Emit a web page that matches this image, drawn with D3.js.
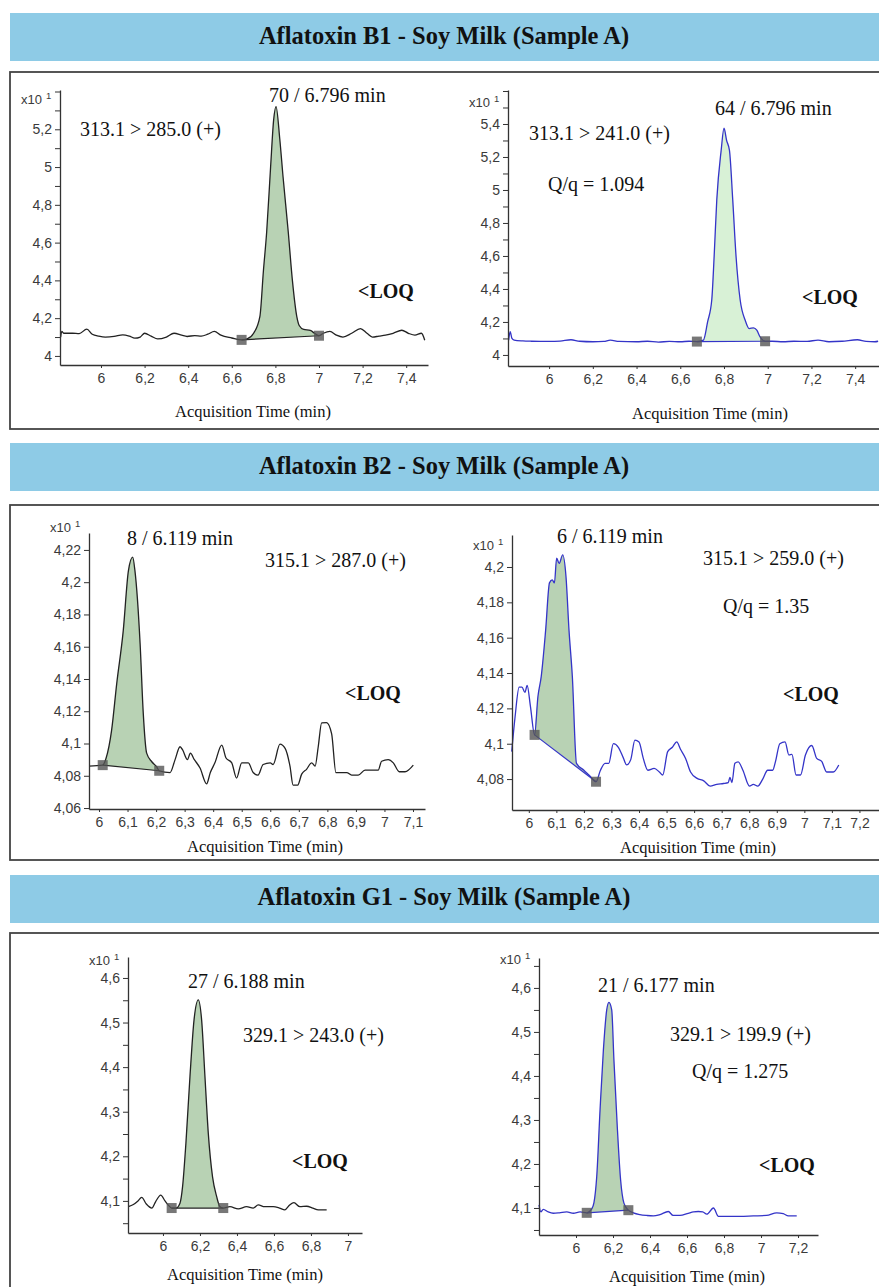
<!DOCTYPE html>
<html>
<head>
<meta charset="utf-8">
<script src="https://cdn.jsdelivr.net/npm/d3@7"></script>
<style>
  body { margin: 0; background: #fff; }
  svg { display: block; }
  .tick text { font-family: "Liberation Sans", Arial, sans-serif; font-size: 14px; fill: #3a3a3a; }
  .domain, .tick line { stroke: #333; }
  .note { font-family: "Liberation Serif", "Times New Roman", serif; font-size: 20px; fill: #111; }
  .loq { font-weight: bold; }
  .xtitle { font-family: "Liberation Serif", "Times New Roman", serif; font-size: 16.5px; fill: #111; }
  .head { font-family: "Liberation Serif", "Times New Roman", serif; font-size: 24.5px; font-weight: bold; fill: #111; }
  .mult { font-family: "Liberation Sans", Arial, sans-serif; fill: #3a3a3a; }
</style>
</head>
<body>
<svg id="chart" width="879" height="1287"></svg>
<script>
// section titles
const sectionTitles = [
  "Aflatoxin B1 - Soy Milk (Sample A)",
  "Aflatoxin B2 - Soy Milk (Sample A)",
  "Aflatoxin G1 - Soy Milk (Sample A)"
];

// traces: [time (min), counts x10^1]
const b1Quant = [[5.815,4.100],[5.82,4.13],[5.83,4.12],[5.87,4.12],[5.9,4.118],[5.935,4.142],[5.96,4.115],[5.99,4.105],[6.02,4.1],[6.06,4.103],[6.1,4.112],[6.13,4.105],[6.155,4.094],[6.18,4.1],[6.2,4.12],[6.23,4.105],[6.26,4.09],[6.3,4.1],[6.335,4.12],[6.37,4.11],[6.395,4.103],[6.43,4.108],[6.46,4.105],[6.49,4.115],[6.52,4.13],[6.55,4.11],[6.6,4.095],[6.645,4.085],[6.67,4.09],[6.70,4.12],[6.729,4.21],[6.745,4.45],[6.76,4.656],[6.778,5.0],[6.792,5.25],[6.803,5.32],[6.82,5.15],[6.835,4.95],[6.859,4.656],[6.878,4.4],[6.898,4.21],[6.91,4.16],[6.93,4.14],[6.96,4.135],[6.98,4.12],[7.0,4.107],[7.02,4.12],[7.05,4.13],[7.08,4.11],[7.11,4.1],[7.15,4.12],[7.19,4.145],[7.22,4.12],[7.245,4.1],[7.275,4.105],[7.305,4.11],[7.34,4.12],[7.38,4.136],[7.41,4.12],[7.44,4.11],[7.47,4.12],[7.485,4.083]];
const b1QuantMarks = [[6.645,4.085],[7.0,4.107]];

const b1Qual = [[5.815,4.09],[5.822,4.141],[5.83,4.1],[5.84,4.09],[5.88,4.085],[5.92,4.083],[5.96,4.082],[6.0,4.082],[6.05,4.084],[6.1,4.092],[6.14,4.083],[6.2,4.08],[6.25,4.082],[6.28,4.09],[6.32,4.082],[6.4,4.08],[6.45,4.083],[6.5,4.078],[6.55,4.082],[6.6,4.08],[6.64,4.083],[6.676,4.081],[6.706,4.09],[6.725,4.2],[6.744,4.333],[6.755,4.6],[6.767,4.94],[6.787,5.24],[6.80,5.374],[6.812,5.3],[6.825,5.24],[6.84,4.94],[6.855,4.6],[6.874,4.333],[6.897,4.21],[6.915,4.16],[6.935,4.164],[6.95,4.15],[6.965,4.11],[6.988,4.083],[7.02,4.083],[7.07,4.08],[7.12,4.083],[7.18,4.082],[7.23,4.09],[7.28,4.08],[7.34,4.083],[7.41,4.092],[7.45,4.082],[7.49,4.08],[7.505,4.083]];
const b1QualMarks = [[6.676,4.081],[6.988,4.083]];

const b2Quant = [[5.965,4.086],[6.013,4.0866],[6.025,4.091],[6.044,4.108],[6.062,4.137],[6.085,4.17],[6.103,4.207],[6.118,4.2155],[6.126,4.207],[6.144,4.162],[6.155,4.119],[6.167,4.094],[6.185,4.0887],[6.202,4.0856],[6.211,4.0831],[6.249,4.082],[6.266,4.0897],[6.284,4.098],[6.293,4.096],[6.31,4.09],[6.32,4.094],[6.334,4.09],[6.354,4.0848],[6.377,4.075],[6.39,4.082],[6.406,4.088],[6.43,4.099],[6.445,4.091],[6.465,4.088],[6.482,4.0786],[6.5,4.088],[6.523,4.088],[6.54,4.082],[6.557,4.0804],[6.575,4.087],[6.6,4.088],[6.61,4.087],[6.634,4.0996],[6.652,4.097],[6.669,4.086],[6.68,4.0742],[6.696,4.0742],[6.71,4.081],[6.727,4.084],[6.745,4.088],[6.757,4.086],[6.768,4.098],[6.78,4.1128],[6.797,4.113],[6.815,4.106],[6.83,4.0819],[6.868,4.082],[6.885,4.0804],[6.908,4.0804],[6.932,4.0835],[6.978,4.0835],[6.99,4.089],[7.013,4.09],[7.031,4.088],[7.052,4.0825],[7.072,4.0825],[7.101,4.0866]];
const b2QuantMarks = [[6.013,4.0866],[6.211,4.0831]];

const b2Qual = [[5.938,4.0955],[5.95,4.115],[5.965,4.132],[5.975,4.132],[5.986,4.129],[5.994,4.133],[6.006,4.121],[6.021,4.105],[6.033,4.1266],[6.045,4.138],[6.061,4.164],[6.075,4.191],[6.085,4.1927],[6.093,4.191],[6.101,4.205],[6.11,4.202],[6.123,4.2068],[6.135,4.1945],[6.146,4.164],[6.158,4.138],[6.173,4.0889],[6.2,4.085],[6.22,4.082],[6.244,4.0785],[6.26,4.085],[6.277,4.0889],[6.29,4.0889],[6.307,4.1],[6.325,4.098],[6.343,4.092],[6.355,4.088],[6.37,4.091],[6.385,4.102],[6.4,4.101],[6.415,4.092],[6.432,4.085],[6.455,4.086],[6.474,4.084],[6.486,4.0823],[6.504,4.0955],[6.521,4.098],[6.537,4.101],[6.55,4.097],[6.569,4.0917],[6.587,4.084],[6.611,4.0804],[6.635,4.079],[6.658,4.076],[6.682,4.077],[6.706,4.0775],[6.724,4.078],[6.73,4.081],[6.737,4.078],[6.748,4.0889],[6.76,4.0897],[6.777,4.085],[6.801,4.076],[6.815,4.077],[6.831,4.076],[6.849,4.08],[6.867,4.085],[6.885,4.085],[6.895,4.0897],[6.911,4.1],[6.93,4.101],[6.944,4.0936],[6.955,4.094],[6.97,4.0823],[6.986,4.0823],[7.004,4.0936],[7.027,4.099],[7.045,4.0917],[7.063,4.09],[7.081,4.084],[7.105,4.084],[7.125,4.088]];
const b2QualMarks = [[6.021,4.105],[6.244,4.0785]];

const g1Quant = [[5.813,4.087],[5.84,4.092],[5.865,4.1],[5.885,4.108],[5.91,4.093],[5.94,4.084],[5.96,4.098],[5.988,4.113],[6.011,4.1],[6.03,4.09],[6.047,4.084],[6.07,4.084],[6.092,4.095],[6.106,4.132],[6.124,4.229],[6.146,4.379],[6.168,4.506],[6.191,4.551],[6.209,4.506],[6.227,4.379],[6.245,4.252],[6.268,4.154],[6.29,4.11],[6.308,4.087],[6.326,4.084],[6.362,4.087],[6.407,4.082],[6.452,4.087],[6.488,4.084],[6.515,4.091],[6.55,4.087],[6.596,4.087],[6.63,4.084],[6.659,4.08],[6.685,4.091],[6.708,4.096],[6.74,4.087],[6.777,4.088],[6.81,4.084],[6.84,4.08],[6.885,4.08]];
const g1QuantMarks = [[6.047,4.084],[6.326,4.084]];

const g1Qual = [[5.8,4.107],[5.81,4.091],[5.823,4.097],[5.85,4.091],[5.877,4.088],[5.91,4.089],[5.95,4.091],[5.986,4.088],[6.022,4.091],[6.058,4.089],[6.085,4.098],[6.097,4.112],[6.112,4.171],[6.13,4.323],[6.148,4.459],[6.166,4.55],[6.178,4.567],[6.193,4.55],[6.205,4.436],[6.223,4.285],[6.241,4.164],[6.259,4.111],[6.283,4.095],[6.31,4.089],[6.345,4.085],[6.382,4.083],[6.418,4.082],[6.454,4.085],[6.499,4.092],[6.525,4.083],[6.562,4.083],[6.607,4.088],[6.635,4.091],[6.661,4.092],[6.685,4.091],[6.707,4.086],[6.743,4.1],[6.77,4.081],[6.82,4.081],[6.886,4.081],[6.958,4.082],[7.03,4.083],[7.085,4.089],[7.12,4.087],[7.148,4.082],[7.193,4.082]];
const g1QualMarks = [[6.058,4.089],[6.283,4.095]];

// tick values
const xTicksB1 = [6, 6.2, 6.4, 6.6, 6.8, 7, 7.2, 7.4];
const xTicksB2 = [6, 6.1, 6.2, 6.3, 6.4, 6.5, 6.6, 6.7, 6.8, 6.9, 7, 7.1];
const xTicksB2Qual = [6, 6.1, 6.2, 6.3, 6.4, 6.5, 6.6, 6.7, 6.8, 6.9, 7, 7.1, 7.2];
const xTicksG1 = [6, 6.2, 6.4, 6.6, 6.8, 7];
const xTicksG1Qual = [6, 6.2, 6.4, 6.6, 6.8, 7, 7.2];
const yTicksB1Quant = [4, 4.2, 4.4, 4.6, 4.8, 5, 5.2];
const yMinorB1Quant = [4.1, 4.3, 4.5, 4.7, 4.9, 5.1, 5.3, 5.4];
const yTicksB1Qual = [4, 4.2, 4.4, 4.6, 4.8, 5, 5.2, 5.4];
const yMinorB1Qual = [4.1, 4.3, 4.5, 4.7, 4.9, 5.1, 5.3, 5.5, 5.6];
const yTicksB2Quant = [4.06, 4.08, 4.1, 4.12, 4.14, 4.16, 4.18, 4.2, 4.22];
const yTicksB2Qual = [4.08, 4.1, 4.12, 4.14, 4.16, 4.18, 4.2];
const yTicksG1 = [4.1, 4.2, 4.3, 4.4, 4.5, 4.6];
const yMinorG1Quant = [4.05, 4.15, 4.25, 4.35, 4.45, 4.55];
const yMinorG1Qual = [4.05, 4.15, 4.25, 4.35, 4.45, 4.55, 4.65];

const BLACK = "#222", BLUE = "#3434c8", GREEN = "#b8d2b4", LIGHT = "#d8f1d6";

// layout
const sections = [
  { head: 13, box: [72, 429], textY: 44 },
  { head: 443, box: [505, 860], textY: 474 },
  { head: 875, box: [933, 1300], textY: 905 }
];

const panels = [
  { trace: b1Quant, marks: b1QuantMarks, xt: xTicksB1, yt: yTicksB1Quant, ym: yMinorB1Quant,
    xDom: [5.812, 7.5], yDom: [3.952, 5.408], l: 60, r: 428, t: 90, b: 365,
    line: BLACK, fill: GREEN, multY: 104, title: [253, 417],
    notes: [["70 / 6.796 min", 269, 102], ["313.1 > 285.0 (+)", 80, 136], ["<LOQ", 358, 298, true]] },
  { trace: b1Qual, marks: b1QualMarks, xt: xTicksB1, yt: yTicksB1Qual, ym: yMinorB1Qual,
    xDom: [5.812, 7.509], yDom: [3.933, 5.606], l: 508, r: 879, t: 90, b: 366,
    line: BLUE, fill: LIGHT, multY: 107, title: [710, 419],
    notes: [["64 / 6.796 min", 715, 115], ["313.1 > 241.0 (+)", 529, 140], ["Q/q = 1.094", 548, 191], ["<LOQ", 802, 304, true]] },
  { trace: b2Quant, marks: b2QuantMarks, xt: xTicksB2, yt: yTicksB2Quant, ym: [],
    xDom: [5.965, 7.142], yDom: [4.0594, 4.2305], l: 89, r: 425, t: 533, b: 809,
    line: BLACK, fill: GREEN, multY: 532, title: [265, 852],
    notes: [["8 / 6.119 min", 127, 545], ["315.1 > 287.0 (+)", 265, 567], ["<LOQ", 345, 700, true]] },
  { trace: b2Qual, marks: b2QualMarks, xt: xTicksB2Qual, yt: yTicksB2Qual, ym: [],
    xDom: [5.939, 7.271], yDom: [4.0625, 4.2181], l: 512, r: 879, t: 535, b: 810,
    line: BLUE, fill: GREEN, multY: 550, title: [698, 853],
    notes: [["6 / 6.119 min", 557, 543], ["315.1 > 259.0 (+)", 703, 565], ["Q/q = 1.35", 723, 613], ["<LOQ", 783, 701, true]] },
  { trace: g1Quant, marks: g1QuantMarks, xt: xTicksG1, yt: yTicksG1, ym: yMinorG1Quant,
    xDom: [5.811, 7.076], yDom: [4.028, 4.647], l: 128, r: 362, t: 957, b: 1233,
    line: BLACK, fill: GREEN, multY: 965, title: [245, 1280],
    notes: [["27 / 6.188 min", 188, 988], ["329.1 > 243.0 (+)", 243, 1042], ["<LOQ", 292, 1168, true]] },
  { trace: g1Qual, marks: g1QualMarks, xt: xTicksG1Qual, yt: yTicksG1, ym: yMinorG1Qual,
    xDom: [5.8, 7.308], yDom: [4.0386, 4.668], l: 539, r: 818, t: 958, b: 1235,
    line: BLUE, fill: GREEN, multY: 964, title: [687, 1282],
    notes: [["21 / 6.177 min", 598, 992], ["329.1 > 199.9 (+)", 670, 1041], ["Q/q = 1.275", 692, 1078], ["<LOQ", 759, 1172, true]] }
];

const svg = d3.select("#chart");
svg.append("rect").attr("width", 879).attr("height", 1287).attr("fill", "#fff");

sections.forEach((s, i) => {
  svg.append("rect").attr("x", 10).attr("y", s.head).attr("width", 880).attr("height", 48)
    .attr("fill", "#8ecbe6");
  svg.append("text").attr("class", "head").attr("x", 444).attr("y", s.textY)
    .attr("text-anchor", "middle").text(sectionTitles[i]);
  svg.append("rect").attr("x", 10).attr("y", s.box[0]).attr("width", 900)
    .attr("height", s.box[1] - s.box[0]).attr("fill", "none")
    .attr("stroke", "#444").attr("stroke-width", 1.8);
});

const fmt = d => String(+d.toFixed(2)).replace(".", ",");

panels.forEach(p => {
  const x = d3.scaleLinear().domain(p.xDom).range([p.l, p.r]);
  const y = d3.scaleLinear().domain(p.yDom).range([p.b, p.t]);
  const g = svg.append("g");

  // peak area between trace and the integration baseline
  const [m0, m1] = p.marks;
  const base = t => m0[1] + (m1[1] - m0[1]) * (t - m0[0]) / (m1[0] - m0[0]);
  const peak = p.trace.filter(d => d[0] >= m0[0] - 1e-9 && d[0] <= m1[0] + 1e-9);
  g.append("path").datum(peak)
    .attr("fill", p.fill)
    .attr("d", d3.area().curve(d3.curveMonotoneX)
      .x(d => x(d[0])).y0(d => y(base(d[0]))).y1(d => y(d[1])));

  g.append("line")
    .attr("x1", x(m0[0])).attr("y1", y(m0[1]))
    .attr("x2", x(m1[0])).attr("y2", y(m1[1]))
    .attr("stroke", p.line).attr("stroke-width", 1.2);

  g.append("path").datum(p.trace)
    .attr("fill", "none").attr("stroke", p.line).attr("stroke-width", 1.3)
    .attr("stroke-linejoin", "round")
    .attr("d", d3.line().curve(d3.curveMonotoneX).x(d => x(d[0])).y(d => y(d[1])));

  g.selectAll(".mk").data(p.marks).join("rect")
    .attr("x", d => x(d[0]) - 5).attr("y", d => y(d[1]) - 5)
    .attr("width", 10).attr("height", 10)
    .attr("fill", "#555").attr("opacity", 0.8);

  // axes
  g.append("g").attr("transform", `translate(${p.l},0)`)
    .call(d3.axisLeft(y).tickValues(p.yt).tickSize(5).tickPadding(3).tickSizeOuter(0).tickFormat(fmt));
  if (p.ym.length) {
    g.append("g").attr("transform", `translate(${p.l},0)`)
      .call(d3.axisLeft(y).tickValues(p.ym).tickSize(5).tickFormat(""))
      .call(a => a.select(".domain").remove());
  }
  g.append("g").attr("transform", `translate(0,${p.b})`)
    .call(d3.axisBottom(x).tickValues(p.xt).tickSize(3).tickPadding(5).tickSizeOuter(0).tickFormat(fmt));
  g.selectAll(".domain").attr("stroke-width", 1.3);

  // multiplier label
  g.append("text").attr("class", "mult").attr("x", p.l - 18).attr("y", p.multY)
    .attr("text-anchor", "end").attr("font-size", 13).text("x10");
  g.append("text").attr("class", "mult").attr("x", p.l - 14).attr("y", p.multY - 5)
    .attr("font-size", 9.5).text("1");

  p.notes.forEach(n => {
    g.append("text").attr("class", n[3] ? "note loq" : "note")
      .attr("x", n[1]).attr("y", n[2]).text(n[0]);
  });

  g.append("text").attr("class", "xtitle")
    .attr("x", p.title[0]).attr("y", p.title[1])
    .attr("text-anchor", "middle").text("Acquisition Time (min)");
});
</script>
</body>
</html>
